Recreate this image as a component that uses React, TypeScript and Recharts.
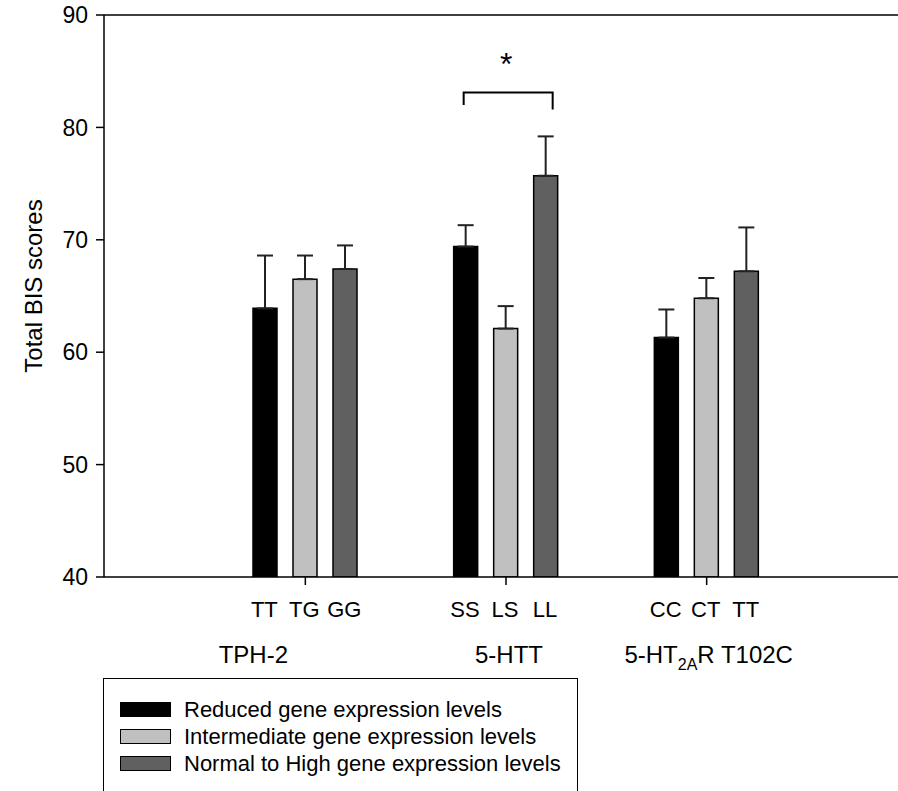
import React from 'react';
import { BarChart, Bar, XAxis, YAxis, ErrorBar, ReferenceLine, Legend, LabelList, Label } from 'recharts';

const groups = ['TPH-2', '5-HTT', '5-HT2AR T102C'];
const genotypes = [
  ['TT', 'TG', 'GG'],
  ['SS', 'LS', 'LL'],
  ['CC', 'CT', 'TT'],
];
const reducedValues = [63.9, 69.4, 61.3];
const reducedErrors = [4.7, 1.9, 2.5];
const intermediateValues = [66.5, 62.1, 64.8];
const intermediateErrors = [2.1, 2.0, 1.8];
const highValues = [67.4, 75.7, 67.2];
const highErrors = [2.1, 3.5, 3.9];
const yTicks = [40, 50, 60, 70, 80, 90];
const seriesNames = [
  'Reduced gene expression levels',
  'Intermediate gene expression levels',
  'Normal to High gene expression levels',
];
const seriesColors = ['#000000', '#c0c0c0', '#606060'];
const significance = { groupIndex: 1, bracketY: 83.1, legY: 82.0, rightLegY: 81.6, starY: 86.0, label: '*' };

const data = groups.map((g, i) => ({
  group: g,
  reduced: reducedValues[i],
  reducedErr: [0, reducedErrors[i]],
  intermediate: intermediateValues[i],
  intermediateErr: [0, intermediateErrors[i]],
  high: highValues[i],
  highErr: [0, highErrors[i]],
}));

const FONT = '"Liberation Sans", Arial, Helvetica, sans-serif';
const BAR_SIZE = 24;
const BAR_GAP = 16;
const groupLabelDx = [-52, 3, 2];

const GroupTick = (props: any) => {
  const { x, y, payload } = props;
  const idx = payload.index;
  const step = BAR_SIZE + BAR_GAP;
  const gt = genotypes[idx] || [];
  const name: string = payload.value;
  let nameNode: React.ReactNode = name;
  if (name === '5-HT2AR T102C') {
    nameNode = [
      <tspan key="a">5-HT</tspan>,
      <tspan key="b" fontSize={16} dy={7}>2A</tspan>,
      <tspan key="c" dy={-7}>R T102C</tspan>,
    ];
  }
  return (
    <g fontFamily={FONT} fill="#000">
      {gt.map((t, k) => (
        <text key={t + k} x={x + (k - 1) * step - 1} y={y + 30} textAnchor="middle" fontSize={22} fill="#000">
          {t}
        </text>
      ))}
      <text x={x + groupLabelDx[idx]} y={y + 76} textAnchor="middle" fontSize={24} fill="#000">
        {nameNode}
      </text>
    </g>
  );
};

const BracketLabel = (props: any) => {
  const { x, y, width, height, value, index } = props;
  if (index !== significance.groupIndex) return null;
  const ppu = height / (value - 40);
  const toY = (v: number) => y - (v - value) * ppu;
  const step = width + BAR_GAP;
  const left = x - 2 * step + 10;
  const right = x + width - 5;
  const by = toY(significance.bracketY);
  return (
    <g>
      <path
        d={`M${left},${toY(significance.legY)} L${left},${by} L${right},${by} L${right},${toY(significance.rightLegY)}`}
        fill="none"
        stroke="#000"
        strokeWidth={2}
      />
      <text x={(left + right) / 2 - 2} y={toY(significance.starY) + 15} textAnchor="middle" fontSize={32} fontFamily={FONT} fill="#000">
        {significance.label}
      </text>
    </g>
  );
};

const LegendBox = () => (
  <div
    style={{
      width: 475,
      height: 130,
      border: '1.5px solid #000',
      boxSizing: 'border-box',
      background: '#fff',
      fontFamily: FONT,
      fontSize: 22,
      paddingTop: 17,
      paddingLeft: 16,
    }}
  >
    {seriesNames.map((n, i) => (
      <div key={n} style={{ display: 'flex', alignItems: 'center', height: 27 }}>
        <div
          style={{
            width: 51,
            height: 15,
            flexShrink: 0,
            background: seriesColors[i],
            border: '1.5px solid #000',
            boxSizing: 'border-box',
            marginRight: 13,
          }}
        />
        <span style={{ whiteSpace: 'nowrap', lineHeight: '27px' }}>{n}</span>
      </div>
    ))}
  </div>
);

const YLabel = (props: any) => {
  const { viewBox } = props;
  const cx = viewBox.x - 11;
  const cy = viewBox.y + viewBox.height / 2 - 10;
  return (
    <text
      x={cx}
      y={cy}
      transform={`rotate(-90, ${cx}, ${cy})`}
      textAnchor="middle"
      dominantBaseline="central"
      fontSize={24}
      fontFamily={FONT}
      fill="#000"
    >
      Total BIS scores
    </text>
  );
};

export default function App() {
  return (
    <div style={{ position: 'absolute', left: 0, top: 0, width: 898, height: 791, overflow: 'hidden', background: '#fff' }}>
      <BarChart
        width={898}
        height={791}
        data={data}
        margin={{ top: 15, right: 0, bottom: 114, left: 44 }}
        barSize={BAR_SIZE}
        barGap={BAR_GAP}
      >
        <XAxis
          dataKey="group"
          type="category"
          height={100}
          padding={{ left: 101, right: 91 }}
          axisLine={{ stroke: '#000', strokeWidth: 1.5 }}
          tickLine={{ stroke: '#000', strokeWidth: 1.5 }}
          tickSize={8}
          tick={<GroupTick />}
          interval={0}
        />
        <YAxis
          type="number"
          domain={[40, 90]}
          ticks={yTicks}
          width={60}
          allowDataOverflow
          axisLine={{ stroke: '#000', strokeWidth: 1.5 }}
          tickLine={{ stroke: '#000', strokeWidth: 1.5 }}
          tickSize={8}
          tickMargin={8}
          tick={{ fill: '#000', fontSize: 23, fontFamily: FONT }}
        >
          <Label content={<YLabel />} />
        </YAxis>
        <ReferenceLine y={90} stroke="#000" strokeWidth={1.5} />
        <Legend
          layout="horizontal"
          verticalAlign="middle"
          align="center"
          content={<LegendBox />}
          wrapperStyle={{ position: 'absolute', left: 103, top: 678, width: 475, height: 130 }}
        />
        <Bar dataKey="reduced" name={seriesNames[0]} fill={seriesColors[0]} stroke="#000" strokeWidth={1.5} isAnimationActive={false}>
          <ErrorBar dataKey="reducedErr" direction="y" width={8} stroke="#222" strokeWidth={2} />
        </Bar>
        <Bar dataKey="intermediate" name={seriesNames[1]} fill={seriesColors[1]} stroke="#000" strokeWidth={1.5} isAnimationActive={false}>
          <ErrorBar dataKey="intermediateErr" direction="y" width={8} stroke="#222" strokeWidth={2} />
        </Bar>
        <Bar dataKey="high" name={seriesNames[2]} fill={seriesColors[2]} stroke="#000" strokeWidth={1.5} isAnimationActive={false}>
          <ErrorBar dataKey="highErr" direction="y" width={8} stroke="#222" strokeWidth={2} />
          <LabelList dataKey="high" content={<BracketLabel />} />
        </Bar>
      </BarChart>
    </div>
  );
}
